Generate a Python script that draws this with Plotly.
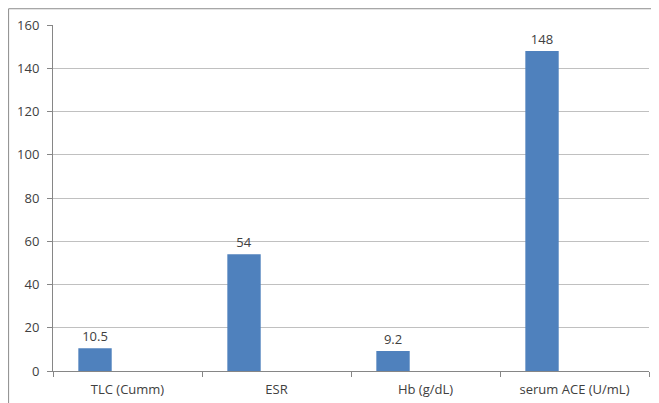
import plotly.graph_objects as go

categories = ["TLC (Cumm)", "ESR", "Hb (g/dL)", "serum ACE (U/mL)"]
values = [10.5, 54, 9.2, 148]
value_labels = ["10.5", "54", "9.2", "148"]
y_ticks = [0, 20, 40, 60, 80, 100, 120, 140, 160]

fig = go.Figure()
fig.add_trace(go.Bar(
    x=categories,
    y=values,
    text=value_labels,
    textposition="outside",
    textfont=dict(family="Open Sans", size=13, color="#404040"),
    marker=dict(color="#4F81BD", line=dict(width=0)),
    width=0.224,
    offset=-0.330,
    cliponaxis=False,
    hoverinfo="skip",
))

fig.update_layout(
    width=651,
    height=395,
    margin=dict(l=45, r=10, t=17, b=32),
    paper_bgcolor="white",
    plot_bgcolor="white",
    showlegend=False,
    font=dict(family="Open Sans", size=13, color="#404040"),
    xaxis=dict(
        type="category",
        automargin=False,
        showgrid=False,
        showline=True,
        linecolor="#868686",
        linewidth=1,
        ticks="outside",
        tickson="boundaries",
        ticklen=5,
        tickcolor="#868686",
        ticklabelstandoff=6,
        tickfont=dict(family="Open Sans", size=13, color="#404040"),
        fixedrange=True,
    ),
    yaxis=dict(
        range=[0, 160],
        automargin=False,
        tickvals=y_ticks,
        showgrid=True,
        gridcolor="#c0c0c0",
        gridwidth=1,
        zeroline=False,
        showline=True,
        linecolor="#868686",
        linewidth=1,
        ticks="outside",
        ticklen=5,
        tickcolor="#868686",
        ticklabelstandoff=5,
        tickfont=dict(family="Open Sans", size=13, color="#404040"),
        fixedrange=True,
    ),
    shapes=[dict(
        type="rect",
        xref="paper", yref="paper",
        x0=-0.0745, x1=1.05, y0=-0.15, y1=1.047,
        line=dict(color="#8c8c8c", width=1),
        fillcolor="rgba(0,0,0,0)",
        layer="below",
    )],
)

fig.write_html("out.html")
